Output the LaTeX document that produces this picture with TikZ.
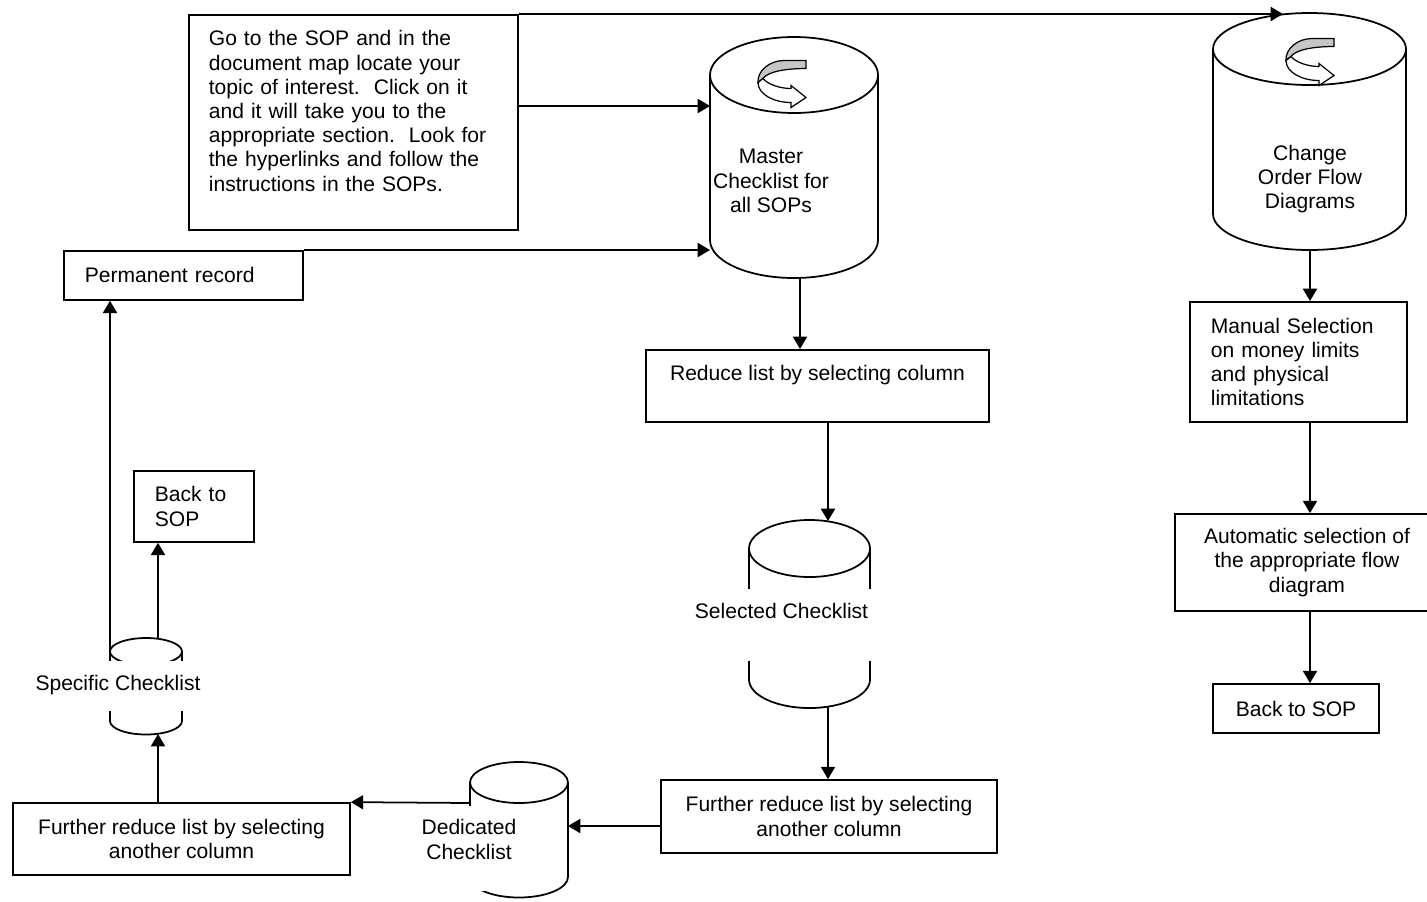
\documentclass[tikz,border=0pt]{standalone}
\usepackage{fontspec}
\setmainfont{Liberation Sans}
\usetikzlibrary{arrows.meta}
\newdimen\pix \pix=0.57pt

\begin{document}
\begin{tikzpicture}[x=0.57pt,y=-0.57pt,line width=1pt]
\tikzstyle{every node}=[font=\fontsize{12}{13.8}\selectfont]
\tikzstyle{box}=[draw, rectangle, inner sep=0pt]
\tikzstyle{tag}=[fill=white, inner sep=0pt]
\tikzstyle{arr}=[-{Triangle[length=7pt,width=8pt]}]
\tikzset{
  pics/drum/.style args={#1/#2/#3}{code={
    \draw (0,0) ellipse [x radius=#1, y radius=#2];
    \draw (-#1,0) -- (-#1,#3) arc [start angle=180, end angle=0, x radius=#1, y radius=#2] -- (#1,0);
  }},
  pics/spin/.style={code={
    \filldraw[fill=gray!45, line width=.7pt] (24,-22) -- (24,-14) .. controls (4,-14) and (-14,-11) .. (-19,-4) -- (-24,0) .. controls (-25,-11) and (-13,-22) .. (2,-22) -- cycle;
    \filldraw[fill=white, line width=.7pt] (-19,-4) .. controls (-14,2) and (-2,6) .. (9,6) -- (9,3) -- (24,15) -- (9,25) -- (9,20) .. controls (-8,20) and (-24,12) .. (-24,0) -- cycle;
  }}
}

\useasboundingbox (0,0) rectangle (1427,901);
\clip (0,0) rectangle (1427,901);

\pic at (794,75) {drum=84/38/165};
\pic at (1309.5,49) {drum=96.5/36/165};
\pic at (809.5,548.5) {drum=60.5/28.5/131};
\pic at (146,651.5) {drum=36/13.5/69.5};
\pic at (519,782.5) {drum=49/20.5/94.5};
\pic at (782,82.5) {spin};
\pic at (1310,60.5) {spin};

\node[box, anchor=north west, align=left, text width=289\pix, inner xsep=20\pix, text height=31\pix, text depth=184\pix] (sop) at (188,14) {Go to the SOP and in the\\document map locate your\\topic of interest.\ \ Click on it\\and it will take you to the\\appropriate section.\ \ Look for\\the hyperlinks and follow the\\instructions in the SOPs.};
\node[box, anchor=north west, align=left, text width=197\pix, inner xsep=21\pix, minimum height=49\pix] (perm) at (63,250) {Permanent record};
\node[box, anchor=north west, align=left, text width=78\pix, inner xsep=21\pix, minimum height=71\pix] (back1) at (133,470) {Back to\\SOP};
\node[box, anchor=north, minimum width=343\pix, text height=31\pix, text depth=41\pix] (reduce) at (817.5,349) {Reduce list by selecting column};
\node[box, align=center, minimum width=336\pix, minimum height=73\pix] (furtherR) at (829,816.5) {Further reduce list by selecting\\another column};
\node[box, align=center, minimum width=337\pix, minimum height=72\pix] (furtherL) at (181.5,839) {Further reduce list by selecting\\another column};
\node[box, anchor=north west, align=left, text width=175\pix, inner xsep=21\pix, minimum height=120\pix] (manual) at (1189,301) {Manual Selection\\on money limits\\and physical\\limitations};
\node[box, align=center, minimum width=264\pix, minimum height=97\pix] (auto) at (1307,562.5) {Automatic selection of\\the appropriate flow\\diagram};
\node[box, minimum width=166\pix, minimum height=49\pix] (back2) at (1296,708.5) {Back to SOP};

\node[align=center] (masterTxt) at (771,181) {Master\\Checklist for\\all SOPs};
\node[align=center] (changeTxt) at (1310,179) {Change\\Order Flow\\Diagrams};
\node[tag, anchor=north, minimum width=187\pix, text height=30\pix, text depth=42\pix] (selTxt) at (781.5,588) {Selected Checklist};
\node[tag, anchor=north, minimum width=175\pix, text height=30\pix, text depth=20\pix] (specTxt) at (118,660) {Specific Checklist};
\node[tag, anchor=north, align=center, text width=112\pix, text height=29\pix, text depth=56\pix] (dedTxt) at (469,805) {Dedicated\\Checklist};

\coordinate (chgIn) at (1283,14);
\coordinate (chgOut) at (1310,250);
\coordinate (mIn1) at (710,106);
\coordinate (mIn2) at (710,250);
\coordinate (mOut) at (800,278);
\coordinate (selIn) at (828,521);
\coordinate (selOut) at (828,707);
\coordinate (dedIn) at (568,826);
\coordinate (dedOut) at (470,803);
\coordinate (specIn) at (158,734);
\coordinate (specOut1) at (158,639);
\coordinate (specOut2) at (110,651.5);

\draw[arr] (sop.north east) -- (chgIn);
\draw[arr] (sop.east |- mIn1) -- (mIn1);
\draw[arr] (perm.north east) -- (mIn2);
\draw[arr] (mOut) -- (mOut |- reduce.north);
\draw[arr] (reduce.south -| selIn) -- (selIn);
\draw[arr] (selOut) -- (selOut |- furtherR.north);
\draw[arr] (furtherR.west |- dedIn) -- (dedIn);
\draw[arr] (dedOut) -- (furtherL.north east);
\draw[arr] (furtherL.north -| specIn) -- (specIn);
\draw[arr] (specOut1) -- (specOut1 |- back1.south);
\draw[arr] (specOut2) -- (specOut2 |- perm.south);
\draw[arr] (chgOut) -- (chgOut |- manual.north);
\draw[arr] (manual.south -| chgOut) -- (auto.north -| chgOut);
\draw[arr] (auto.south -| chgOut) -- (back2.north -| chgOut);

\end{tikzpicture}
\end{document}
